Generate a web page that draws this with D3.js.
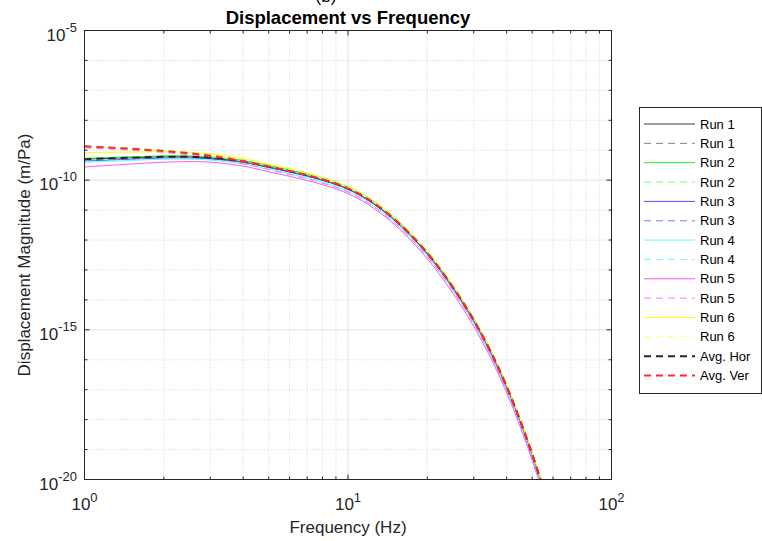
<!DOCTYPE html>
<html>
<head>
<meta charset="utf-8">
<script src="https://cdn.jsdelivr.net/npm/d3@7"></script>
<style>
  body { margin: 0; background: #fff; }
  svg { display: block; font-family: "Liberation Sans", Arial, Helvetica, sans-serif; }
</style>
</head>
<body>
<svg id="chart" width="762" height="541"></svg>
<script>
// ---------------- DATA (log10 of displacement magnitude, m/Pa) ----------------
const freq = [1, 1.5, 2, 2.5, 3, 4, 5, 6, 7, 8, 9, 10, 11, 12, 13, 15, 18, 21, 25, 30, 35, 40, 45, 50, 55, 60];

const run1Solid  = [-9.30,-9.25,-9.22,-9.22,-9.26,-9.39,-9.56,-9.71,-9.85,-9.99,-10.13,-10.29,-10.47,-10.67,-10.88,-11.32,-12.00,-12.68,-13.59,-14.69,-15.79,-16.91,-18.04,-19.17,-20.29,-21.38];
const run1Dashed = [-8.88,-8.96,-9.04,-9.11,-9.19,-9.38,-9.56,-9.71,-9.85,-9.99,-10.13,-10.29,-10.47,-10.67,-10.88,-11.32,-12.00,-12.68,-13.59,-14.69,-15.79,-16.91,-18.04,-19.17,-20.29,-21.38];
const run2Solid  = [-9.27,-9.22,-9.19,-9.19,-9.22,-9.34,-9.51,-9.66,-9.79,-9.92,-10.06,-10.22,-10.40,-10.60,-10.81,-11.25,-11.93,-12.61,-13.52,-14.62,-15.72,-16.84,-17.97,-19.10,-20.22,-21.31];
const run2Dashed = [-8.86,-8.93,-9.00,-9.07,-9.14,-9.32,-9.49,-9.64,-9.77,-9.90,-10.04,-10.20,-10.38,-10.58,-10.79,-11.23,-11.91,-12.59,-13.50,-14.60,-15.70,-16.82,-17.95,-19.08,-20.20,-21.29];
const run3Solid  = [-9.36,-9.30,-9.26,-9.26,-9.29,-9.41,-9.58,-9.73,-9.87,-10.01,-10.15,-10.31,-10.49,-10.69,-10.90,-11.34,-12.02,-12.70,-13.61,-14.71,-15.81,-16.93,-18.06,-19.19,-20.31,-21.40];
const run3Dashed = [-8.87,-8.95,-9.03,-9.10,-9.18,-9.37,-9.55,-9.70,-9.84,-9.98,-10.12,-10.28,-10.46,-10.66,-10.87,-11.31,-11.99,-12.67,-13.58,-14.68,-15.78,-16.90,-18.03,-19.16,-20.28,-21.37];
const run4Solid  = [-9.40,-9.34,-9.30,-9.30,-9.33,-9.46,-9.63,-9.79,-9.93,-10.08,-10.22,-10.38,-10.56,-10.76,-10.97,-11.41,-12.09,-12.77,-13.68,-14.78,-15.88,-17.00,-18.13,-19.26,-20.38,-21.47];
const run4Dashed = [-8.90,-8.98,-9.06,-9.13,-9.21,-9.41,-9.60,-9.76,-9.90,-10.05,-10.19,-10.35,-10.53,-10.73,-10.94,-11.38,-12.06,-12.74,-13.65,-14.75,-15.85,-16.97,-18.10,-19.23,-20.35,-21.44];
const run5Solid  = [-9.56,-9.46,-9.40,-9.38,-9.40,-9.53,-9.72,-9.87,-10.01,-10.15,-10.29,-10.45,-10.63,-10.83,-11.04,-11.48,-12.17,-12.86,-13.78,-14.88,-15.98,-17.10,-18.23,-19.36,-20.48,-21.57];
const run5Dashed = [-8.92,-9.00,-9.08,-9.16,-9.24,-9.45,-9.65,-9.81,-9.96,-10.10,-10.24,-10.40,-10.58,-10.78,-10.99,-11.43,-12.11,-12.79,-13.70,-14.80,-15.90,-17.02,-18.15,-19.28,-20.40,-21.49];
const run6Solid  = [-9.08,-9.06,-9.05,-9.07,-9.12,-9.28,-9.46,-9.62,-9.76,-9.92,-10.06,-10.22,-10.40,-10.60,-10.81,-11.25,-11.93,-12.61,-13.52,-14.62,-15.72,-16.84,-17.97,-19.10,-20.22,-21.31];
const run6Dashed = [-8.86,-8.94,-9.02,-9.09,-9.16,-9.35,-9.53,-9.68,-9.81,-9.94,-10.08,-10.24,-10.42,-10.62,-10.83,-11.27,-11.95,-12.63,-13.54,-14.64,-15.74,-16.86,-17.99,-19.12,-20.24,-21.33];
const avgHor     = [-9.30,-9.25,-9.22,-9.22,-9.25,-9.38,-9.55,-9.70,-9.84,-9.98,-10.12,-10.28,-10.46,-10.66,-10.87,-11.31,-11.99,-12.67,-13.58,-14.68,-15.78,-16.90,-18.03,-19.16,-20.28,-21.37];
const avgVer     = [-8.87,-8.95,-9.03,-9.10,-9.18,-9.37,-9.55,-9.70,-9.84,-9.98,-10.12,-10.28,-10.46,-10.66,-10.87,-11.31,-11.99,-12.67,-13.58,-14.68,-15.78,-16.90,-18.03,-19.16,-20.28,-21.37];

const legendLabels = ["Run 1","Run 1","Run 2","Run 2","Run 3","Run 3","Run 4","Run 4","Run 5","Run 5","Run 6","Run 6","Avg. Hor","Avg. Ver"];
const seriesValues = [run1Solid, run1Dashed, run2Solid, run2Dashed, run3Solid, run3Dashed, run4Solid, run4Dashed,
                      run5Solid, run5Dashed, run6Solid, run6Dashed, avgHor, avgVer];
const xTickExps = [0, 1, 2];
const yTickExps = [-5, -10, -15, -20];

// ---------------- STYLES ----------------
const styles = [
  {c:"#3a3a3a", w:1,   d:null},
  {c:"#808080", w:1,   d:"7,5"},
  {c:"#22ee22", w:1,   d:null},
  {c:"#77ff77", w:1,   d:"7,5"},
  {c:"#5050ff", w:1,   d:null},
  {c:"#7777ff", w:1,   d:"7,5"},
  {c:"#55ffff", w:1,   d:null},
  {c:"#77ffff", w:1,   d:"7,5"},
  {c:"#ff55ff", w:1,   d:null},
  {c:"#ff77ff", w:1,   d:"7,5"},
  {c:"#ffff00", w:1,   d:null},
  {c:"#ffff80", w:1,   d:"7,5"},
  {c:"#262626", w:2,   d:"7,5"},
  {c:"#ff2a2a", w:2,   d:"7,5"}
];

const L = 84.5, R = 611.5, T = 30.5, B = 479.5;
const svg = d3.select("#chart");
const x = d3.scaleLog().domain([1, 100]).range([L, R]);
const y = d3.scaleLog().domain([1e-20, 1e-5]).range([B, T]);
const axisColor = "#262626";
const fontMain = 17;

// grid
const g = svg.append("g");
const xMinor = [], xMajor = [10];
for (let dec = 1; dec <= 10; dec *= 10) for (let k = 2; k <= 9; k++) xMinor.push(k * dec);
const yMinor = [], yMajor = [1e-10, 1e-15];
for (let e = -19; e <= -6; e++) if (e % 5 !== 0) yMinor.push(Math.pow(10, e));

g.selectAll(".xmin").data(xMinor).join("line")
  .attr("x1", d => x(d)).attr("x2", d => x(d)).attr("y1", T).attr("y2", B)
  .attr("stroke", "#c8c8c8").attr("stroke-width", 0.8).attr("stroke-dasharray", "1,2");
g.selectAll(".ymin").data(yMinor).join("line")
  .attr("y1", d => y(d)).attr("y2", d => y(d)).attr("x1", L).attr("x2", R)
  .attr("stroke", "#c8c8c8").attr("stroke-width", 0.8).attr("stroke-dasharray", "1,2");
g.selectAll(".xmaj").data(xMajor).join("line")
  .attr("x1", d => x(d)).attr("x2", d => x(d)).attr("y1", T).attr("y2", B)
  .attr("stroke", "#e3e3e3").attr("stroke-width", 1);
g.selectAll(".ymaj").data(yMajor).join("line")
  .attr("y1", d => y(d)).attr("y2", d => y(d)).attr("x1", L).attr("x2", R)
  .attr("stroke", "#e3e3e3").attr("stroke-width", 1);

// clip
svg.append("clipPath").attr("id", "clip").append("rect")
  .attr("x", L).attr("y", T).attr("width", R - L).attr("height", B - T);

const line = d3.line()
  .x(d => x(d[0])).y(d => y(Math.pow(10, d[1])))
  .curve(d3.curveCatmullRom.alpha(0.5));

const lines = svg.append("g").attr("clip-path", "url(#clip)");
seriesValues.forEach((vals, i) => {
  const pts = freq.map((f, j) => [f, vals[j]]);
  const s = styles[i];
  lines.append("path").attr("d", line(pts)).attr("fill", "none")
    .attr("stroke", s.c).attr("stroke-width", s.w)
    .attr("stroke-dasharray", s.d);
});

// axes box and ticks
const ax = svg.append("g");
ax.append("rect").attr("x", L).attr("y", T).attr("width", R - L).attr("height", B - T)
  .attr("fill", "none").attr("stroke", axisColor).attr("stroke-width", 1);
const yMinTicks = [];
for (let e = -19; e <= -6; e++) if (e % 5 !== 0) yMinTicks.push(Math.pow(10, e));
function tickLines(sel, data, horiz, len, pos, dir) {
  sel.selectAll(null).data(data).join("line")
    .attr("x1", d => horiz ? x(d) : pos).attr("x2", d => horiz ? x(d) : pos + dir * len)
    .attr("y1", d => horiz ? pos : y(d)).attr("y2", d => horiz ? pos + dir * len : y(d))
    .attr("stroke", axisColor).attr("stroke-width", 1);
}
tickLines(ax, xMinor, true, 3, B, -1);
tickLines(ax, xMinor, true, 3, T, 1);
tickLines(ax, [10], true, 5, B, -1);
tickLines(ax, [10], true, 5, T, 1);
tickLines(ax, yMinTicks, false, 3, L, 1);
tickLines(ax, yMinTicks, false, 3, R, -1);
tickLines(ax, [1e-10, 1e-15], false, 5, L, 1);
tickLines(ax, [1e-10, 1e-15], false, 5, R, -1);

// tick labels
xTickExps.forEach(e => {
  const t = ax.append("text").attr("x", x(Math.pow(10, e))).attr("y", B + 30)
    .attr("text-anchor", "middle").attr("fill", axisColor).attr("font-size", fontMain);
  t.append("tspan").text("10");
  t.append("tspan").attr("dy", -8).attr("font-size", 13).text(e);
});
yTickExps.forEach(e => {
  const t = ax.append("text").attr("x", 77).attr("y", y(Math.pow(10, e)) + 10)
    .attr("text-anchor", "end").attr("fill", axisColor).attr("font-size", fontMain);
  t.append("tspan").text("10");
  t.append("tspan").attr("dy", -9).attr("font-size", 13).text(e);
});

// axis labels and title
svg.append("text").attr("x", (L + R) / 2).attr("y", 532.5).attr("text-anchor", "middle")
  .attr("font-size", fontMain).attr("fill", axisColor).text("Frequency (Hz)");
svg.append("text").attr("transform", `translate(30,${(T + B) / 2}) rotate(-90)`)
  .attr("text-anchor", "middle").attr("font-size", fontMain).attr("fill", axisColor)
  .text("Displacement Magnitude (m/Pa)");
svg.append("text").attr("x", (L + R) / 2).attr("y", 24).attr("text-anchor", "middle")
  .attr("font-size", 18.5).attr("font-weight", "bold").attr("fill", "#000")
  .text("Displacement vs Frequency");
svg.append("text").attr("x", 326).attr("y", 2).attr("text-anchor", "middle")
  .attr("font-size", 17).attr("fill", "#000").text("(b)");

// legend
const lg = svg.append("g");
lg.append("rect").attr("x", 639.5).attr("y", 107.5).attr("width", 122).attr("height", 286)
  .attr("fill", "#fff").attr("stroke", axisColor).attr("stroke-width", 1);
legendLabels.forEach((lab, i) => {
  const yy = 124 + i * 19.35;
  const s = styles[i];
  lg.append("line").attr("x1", 644).attr("x2", 695).attr("y1", yy).attr("y2", yy)
    .attr("stroke", s.c).attr("stroke-width", s.w).attr("stroke-dasharray", s.d);
  lg.append("text").attr("x", 700).attr("y", yy + 4.5).attr("font-size", 13)
    .attr("fill", "#000").text(lab);
});
</script>
</body>
</html>
